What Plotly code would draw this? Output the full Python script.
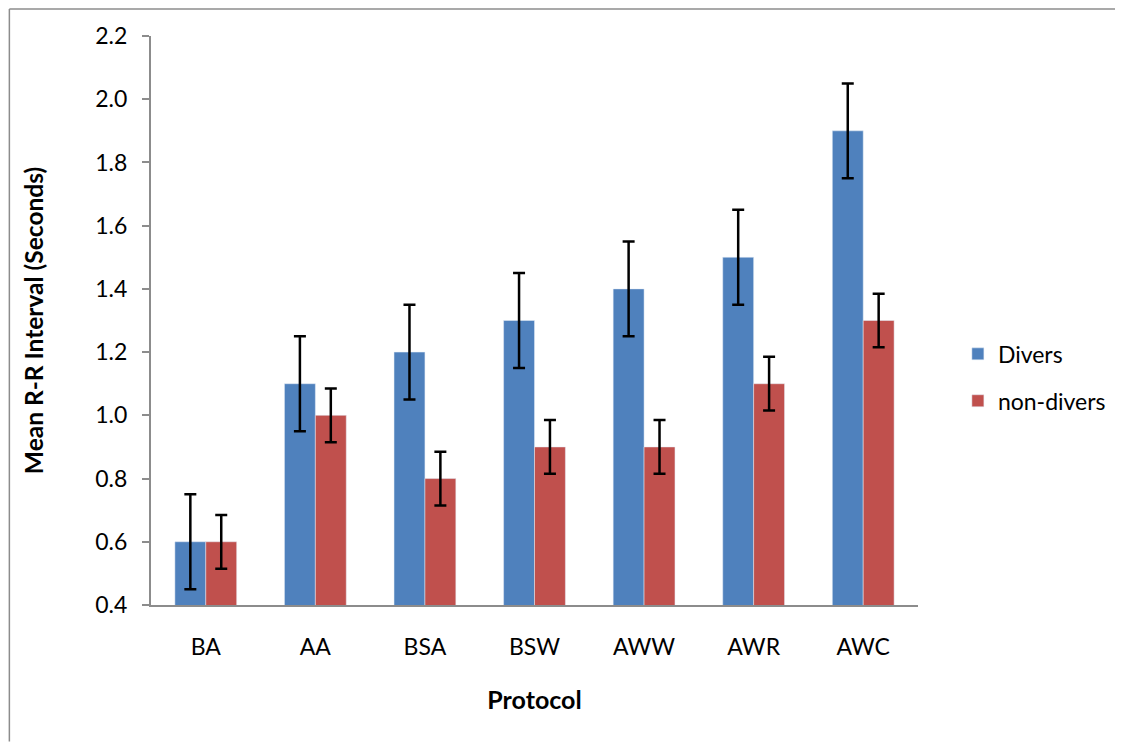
import plotly.graph_objects as go

protocols = ["BA", "AA", "BSA", "BSW", "AWW", "AWR", "AWC"]
divers = [0.6, 1.1, 1.2, 1.3, 1.4, 1.5, 1.9]
non_divers = [0.6, 1.0, 0.8, 0.9, 0.9, 1.1, 1.3]
divers_err = [0.15, 0.15, 0.15, 0.15, 0.15, 0.15, 0.15]
non_divers_err = [0.085, 0.085, 0.085, 0.085, 0.085, 0.085, 0.085]
y_ticks = [0.4, 0.6, 0.8, 1.0, 1.2, 1.4, 1.6, 1.8, 2.0, 2.2]

font = "Lato, 'Open Sans', sans-serif"

fig = go.Figure()
fig.add_trace(go.Bar(
    x=protocols, y=divers, name="Divers", legendgroup="a",
    marker=dict(color="#4F81BD"),
    error_y=dict(type="data", array=divers_err, color="black", thickness=2.5, width=6),
))
fig.add_trace(go.Bar(
    x=protocols, y=non_divers, name="non-divers", legendgroup="b",
    marker=dict(color="#C0504D"),
    error_y=dict(type="data", array=non_divers_err, color="black", thickness=2.5, width=6),
))

# outer chart border (only left and top edges are in the picture)
bx = (9 - 151) / 769
by = (605 - 9) / 569
fig.add_shape(type="line", xref="paper", yref="paper", x0=bx, x1=bx, y0=-0.24, y1=by,
              line=dict(color="#8c8c8c", width=1.5), layer="below")
fig.add_shape(type="line", xref="paper", yref="paper", x0=bx, x1=1.26, y0=by, y1=by,
              line=dict(color="#8c8c8c", width=1.5), layer="below")

# page body adds 8px, so figure is a bit smaller and margins shifted (no scrollbars)
fig.update_layout(
    width=1115, height=737,
    margin=dict(l=143, r=203, t=28, b=140),
    paper_bgcolor="white", plot_bgcolor="white",
    barmode="group", bargap=0.436, bargroupgap=0,
    font=dict(family=font, size=23, color="black"),
    showlegend=True,
    legend=dict(x=1.052, y=0.40, xanchor="left", yanchor="middle",
                traceorder="grouped", tracegroupgap=14,
                font=dict(size=23), itemwidth=30),
)
fig.update_xaxes(
    title=dict(text="<b>Protocol</b>", font=dict(size=25), standoff=33),
    showline=True, linecolor="#8c8c8c", linewidth=2,
    ticks="", showgrid=False, ticklabelstandoff=20,
)
fig.update_yaxes(
    title=dict(text="<b>Mean R-R Interval (Seconds)</b>", font=dict(size=24.5), standoff=45),
    range=[0.4, 2.2], tickvals=y_ticks, ticktext=[f"{v:.1f}" for v in y_ticks],
    showline=True, linecolor="#8c8c8c", linewidth=2,
    ticks="outside", ticklen=7, tickcolor="#8c8c8c", tickwidth=1.5,
    showgrid=False, zeroline=False, ticklabelstandoff=10,
)

fig.write_html("out.html")
